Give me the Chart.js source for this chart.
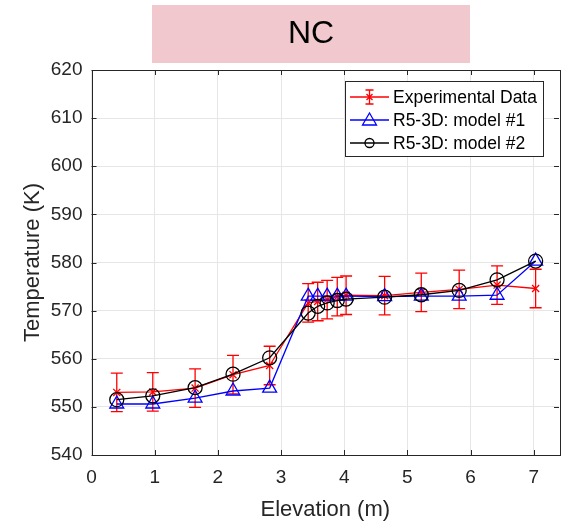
<!DOCTYPE html>
<html>
<head>
<meta charset="utf-8">
<script src="https://cdn.jsdelivr.net/npm/chart.js@4/dist/chart.umd.min.js"></script>
<style>
  html, body { margin: 0; padding: 0; background: #fff; }
  #wrap { width: 577px; height: 526px; }
</style>
</head>
<body>
<div id="wrap"><canvas id="c" width="577" height="526"></canvas></div>
<script>
const titleText = "NC";
const xLabel = "Elevation (m)";
const yLabel = "Temperature (K)";
const xTicks = [0, 1, 2, 3, 4, 5, 6, 7];
const yTicks = [540, 550, 560, 570, 580, 590, 600, 610, 620];
const elevation = [0.40, 0.97, 1.64, 2.24, 2.82, 3.43, 3.58, 3.73, 3.89, 4.03, 4.64, 5.22, 5.82, 6.42, 7.03];
const expTemp   = [553.0, 553.1, 553.9, 556.7, 558.6, 571.6, 571.9, 572.3, 572.9, 573.2, 573.1, 573.8, 574.4, 575.3, 574.6];
const expErr    = [4, 4, 4, 4, 4, 4, 4, 4, 4, 4, 4, 4, 4, 4, 4];
const model1    = [550.6, 550.6, 551.8, 553.3, 553.9, 573.0, 573.0, 573.0, 573.0, 573.0, 572.9, 573.0, 573.0, 573.2, 580.3];
const model2    = [551.5, 552.3, 554.0, 556.8, 560.2, 569.5, 570.9, 571.6, 572.1, 572.4, 572.8, 573.3, 574.2, 576.4, 580.3];
const seriesNames = ["Experimental Data", "R5-3D: model #1", "R5-3D: model #2"];

const FONT = "'Liberation Sans', Arial, Helvetica, sans-serif";
const TXT = "#262626";

function pts(ys) { return elevation.map((x, i) => ({ x: x, y: ys[i] })); }

const extras = {
  id: 'extras',
  beforeDatasetsDraw(chart) {
    const ctx = chart.ctx, xs = chart.scales.x, ys = chart.scales.y;
    ctx.save();
    ctx.strokeStyle = '#ff0000';
    ctx.lineWidth = 1.3;
    elevation.forEach((x, i) => {
      const px = xs.getPixelForValue(x);
      const t = ys.getPixelForValue(expTemp[i] + expErr[i]);
      const b = ys.getPixelForValue(expTemp[i] - expErr[i]);
      ctx.beginPath();
      ctx.moveTo(px, t); ctx.lineTo(px, b);
      ctx.moveTo(px - 6, t); ctx.lineTo(px + 6, t);
      ctx.moveTo(px - 6, b); ctx.lineTo(px + 6, b);
      ctx.stroke();
    });
    ctx.restore();
  },
  afterDraw(chart) {
    const ctx = chart.ctx, a = chart.chartArea, xs = chart.scales.x, ys = chart.scales.y;
    ctx.save();
    ctx.strokeStyle = TXT;
    ctx.lineWidth = 1;
    ctx.strokeRect(Math.round(a.left) + 0.5, Math.round(a.top) + 0.5, Math.round(a.right - a.left), Math.round(a.bottom - a.top));
    ctx.beginPath();
    xTicks.forEach(v => {
      const px = Math.round(xs.getPixelForValue(v)) + 0.5;
      ctx.moveTo(px, a.bottom); ctx.lineTo(px, a.bottom - 5);
      ctx.moveTo(px, a.top); ctx.lineTo(px, a.top + 5);
    });
    yTicks.forEach(v => {
      const py = Math.round(ys.getPixelForValue(v)) + 0.5;
      ctx.moveTo(a.left, py); ctx.lineTo(a.left + 5, py);
      ctx.moveTo(a.right, py); ctx.lineTo(a.right - 5, py);
    });
    ctx.stroke();
    // title box
    ctx.fillStyle = '#f0c8ce';
    ctx.fillRect(152, 5, 318, 58);
    ctx.fillStyle = '#000';
    ctx.font = "32px " + FONT;
    ctx.textAlign = 'center';
    ctx.textBaseline = 'middle';
    ctx.fillText(titleText, 311, 34);
    // legend
    const lx = 345, ly = 81, lw = 198, lh = 75;
    ctx.fillStyle = '#fff';
    ctx.fillRect(lx, ly, lw, lh);
    ctx.strokeStyle = TXT;
    ctx.lineWidth = 1;
    ctx.strokeRect(lx + 0.5, ly + 0.5, lw, lh);
    const rows = [97, 120, 143];
    const colors = ['#ff0000', '#0000ff', '#000000'];
    ctx.font = "17.5px " + FONT;
    ctx.textAlign = 'left';
    rows.forEach((ry, i) => {
      ctx.strokeStyle = colors[i];
      ctx.lineWidth = 1.3;
      ctx.beginPath();
      ctx.moveTo(350, ry); ctx.lineTo(389, ry);
      ctx.stroke();
      const cx = 369.5;
      ctx.beginPath();
      if (i === 0) {
        ctx.moveTo(cx, ry - 7); ctx.lineTo(cx, ry + 7);
        ctx.moveTo(cx - 4, ry - 7); ctx.lineTo(cx + 4, ry - 7);
        ctx.moveTo(cx - 4, ry + 7); ctx.lineTo(cx + 4, ry + 7);
        ctx.moveTo(cx - 3, ry - 3); ctx.lineTo(cx + 3, ry + 3);
        ctx.moveTo(cx - 3, ry + 3); ctx.lineTo(cx + 3, ry - 3);
      } else if (i === 1) {
        ctx.moveTo(cx, ry - 7); ctx.lineTo(cx + 7, ry + 5); ctx.lineTo(cx - 7, ry + 5); ctx.closePath();
      } else {
        ctx.arc(cx, ry, 4.5, 0, Math.PI * 2);
      }
      ctx.stroke();
      ctx.fillStyle = '#000';
      ctx.textBaseline = 'middle';
      ctx.fillText(seriesNames[i], 393, ry + 1);
    });
    ctx.restore();
  }
};

new Chart(document.getElementById('c'), {
  type: 'scatter',
  data: {
    datasets: [
      { label: seriesNames[0], data: pts(expTemp), showLine: true, borderColor: '#ff0000', backgroundColor: '#ff0000',
        borderWidth: 1.3, pointStyle: 'crossRot', pointRadius: 5, pointBorderWidth: 1.3, order: 3 },
      { label: seriesNames[1], data: pts(model1), showLine: true, borderColor: '#0000ff', backgroundColor: 'rgba(0,0,0,0)',
        borderWidth: 1.3, pointStyle: 'triangle', pointRadius: 8, pointBorderWidth: 1.3, order: 2 },
      { label: seriesNames[2], data: pts(model2), showLine: true, borderColor: '#000000', backgroundColor: 'rgba(0,0,0,0)',
        borderWidth: 1.3, pointStyle: 'circle', pointRadius: 7, pointBorderWidth: 1.3, order: 1 }
    ]
  },
  options: {
    responsive: false,
    animation: false,
    layout: { padding: { left: 0, top: 70, right: 18, bottom: 0 } },
    plugins: { legend: { display: false }, tooltip: { enabled: false }, title: { display: false } },
    scales: {
      x: {
        type: 'linear', min: 0, max: 7.4,
        afterBuildTicks: s => { s.ticks = xTicks.map(v => ({ value: v })); },
        afterFit: s => { s.height = 71; },
        grid: { color: '#e6e6e6', drawTicks: false },
        border: { display: false },
        ticks: { color: TXT, font: { family: FONT, size: 19 }, padding: 11 },
        title: { display: true, text: xLabel, color: TXT, font: { family: FONT, size: 22 }, padding: { top: 0, bottom: 3 } }
      },
      y: {
        type: 'linear', min: 540, max: 620,
        afterBuildTicks: s => { s.ticks = yTicks.map(v => ({ value: v })); },
        afterFit: s => { s.width = 91.5; },
        grid: { color: '#e6e6e6', drawTicks: false },
        border: { display: false },
        ticks: { color: TXT, font: { family: FONT, size: 19 }, padding: 9 },
        title: { display: true, text: yLabel, color: TXT, font: { family: FONT, size: 22 }, padding: { top: 20, bottom: 0 } }
      }
    }
  },
  plugins: [extras]
});
</script>
</body>
</html>
